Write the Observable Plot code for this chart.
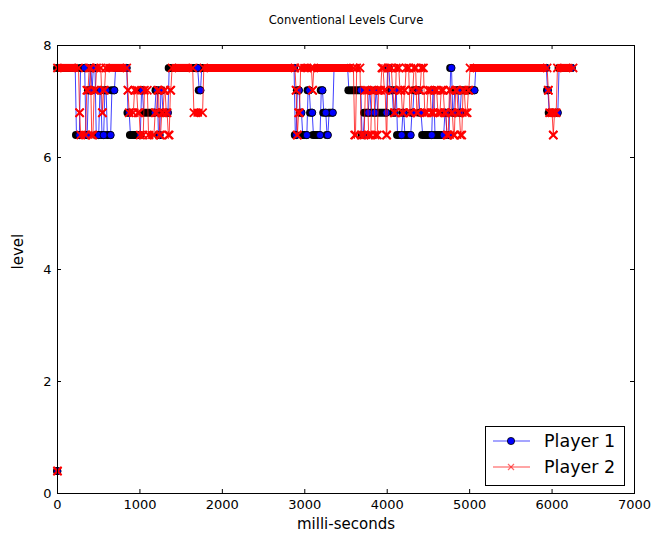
<!DOCTYPE html>
<html><head><meta charset="utf-8">
<script src="https://cdn.jsdelivr.net/npm/d3@7"></script>
<script src="https://cdn.jsdelivr.net/npm/@observablehq/plot@0.6"></script>
<style>
body{margin:0;background:#fff;font-family:"DejaVu Sans",sans-serif;}
#wrap{position:relative;width:652px;height:534px;}
#legend{position:absolute;left:485px;top:426px;width:140px;height:60px;border:1.5px solid #000;background:#fff;box-sizing:border-box;}
</style></head><body><div id="wrap"><div id="chart"></div><div id="legend"></div></div>
<script>
const title = "Conventional Levels Curve";
const xLabel = "milli-seconds";
const yLabel = "level";
const seriesNames = ["Player 1", "Player 2"];
const xTicks = [0,1000,2000,3000,4000,5000,6000,7000];
const yTicks = [0,2,4,6,8];

// runs: [start ms, end ms, level]
const player1Runs = [
[0,0,0.4],[0,215,7.6],[230,265,6.4],[280,330,7.6],[345,360,6.4],[375,385,7.2],[400,405,7.6],
[420,420,7.2],[435,455,7.6],[470,500,6.4],[515,525,7.2],[540,560,6.4],[575,590,7.2],[605,645,6.4],
[660,690,7.2],[705,840,7.6],[855,870,6.8],[885,1005,6.4],[1020,1030,7.2],[1045,1180,6.8],
[1195,1210,7.2],[1225,1240,6.4],[1255,1265,7.2],[1280,1340,6.8],[1355,1700,7.6],[1720,1735,7.2],
[1750,2870,7.6],[2885,2895,6.4],[2910,2930,7.2],[2945,2960,6.8],[2975,3025,6.4],[3040,3055,7.2],
[3070,3090,6.8],[3105,3185,6.4],[3200,3215,7.2],[3230,3255,6.8],[3270,3280,6.4],[3295,3340,6.8],
[3355,3520,7.6],[3535,3680,7.2],[3695,3710,6.4],[3725,3770,6.8],[3785,3790,7.2],[3805,3850,6.8],
[3865,3870,7.2],[3885,3990,6.8],[4005,4020,7.6],[4035,4060,7.2],[4075,4090,6.8],[4105,4110,7.2],
[4125,4175,6.4],[4190,4200,6.8],[4215,4285,6.4],[4300,4310,6.8],[4325,4380,7.2],[4395,4410,6.8],
[4430,4540,6.4],[4555,4565,7.2],[4580,4685,6.4],[4700,4710,6.8],[4725,4750,6.4],[4770,4780,7.6],
[4795,4805,6.8],[4820,4860,7.2],[4875,4885,6.8],[4900,5060,7.2],[5075,5930,7.6],[5945,5950,7.2],
[5965,6070,6.8],[6085,6240,7.6]
];
const player2Runs = [
[0,0,0.4],[0,255,7.6],[268,268,6.8],[282,340,6.4],[355,370,7.2],[385,400,7.6],[415,430,6.4],
[445,460,7.2],[475,525,7.6],[545,545,6.8],[560,570,7.2],[585,840,7.6],[855,855,7.2],[870,920,6.8],
[935,960,7.2],[975,990,6.8],[1005,1040,6.4],[1055,1090,7.2],[1105,1170,6.4],[1185,1200,6.8],
[1215,1225,7.2],[1240,1250,6.4],[1265,1280,6.8],[1295,1305,7.2],[1320,1330,6.8],[1345,1355,6.4],
[1370,1375,7.2],[1390,1640,7.6],[1655,1760,6.8],[1775,2880,7.6],[2895,2895,7.2],[2910,2910,6.4],
[2925,2935,6.8],[2950,3080,7.6],[3095,3095,7.2],[3110,3590,7.6],[3605,3615,6.4],[3630,3670,7.6],
[3685,3720,6.4],[3735,3760,7.2],[3775,3800,6.4],[3815,3840,7.2],[3855,3880,6.4],[3895,3920,7.2],
[3935,3950,7.6],[3965,3975,7.2],[3990,3995,6.4],[4010,4050,7.6],[4065,4070,7.2],[4085,4095,6.8],
[4110,4140,7.6],[4155,4170,7.2],[4185,4195,6.8],[4210,4215,7.2],[4230,4260,7.6],[4275,4285,6.8],
[4300,4310,7.2],[4325,4345,7.6],[4360,4370,6.8],[4385,4400,7.2],[4415,4440,7.6],[4455,4480,6.8],
[4495,4520,7.2],[4535,4560,6.8],[4575,4600,7.2],[4615,4640,6.8],[4655,4680,7.2],[4695,4710,6.8],
[4725,4740,6.4],[4755,4765,7.2],[4780,4790,6.8],[4805,4815,6.4],[4830,4845,7.2],[4860,4875,6.8],
[4890,4905,6.4],[4920,4935,7.2],[4950,4970,6.8],[4985,4990,7.2],[5005,5940,7.6],[5955,5955,7.2],
[5970,6000,6.8],[6015,6015,6.4],[6030,6050,6.8],[6065,6255,7.6]
];

const toRuns = rs => rs.map(([start,end,level]) => ({start,end,level}));
const toPts = rs => rs.flatMap(([start,end,level]) => [{t:start,level},{t:end,level}]);
const r1 = toRuns(player1Runs), r2 = toRuns(player2Runs);
const p1 = toPts(player1Runs), p2 = toPts(player2Runs);

const ML=57, MR=18, MT=45, MB=41, W=652, H=534;
const tickY = 8*4/(H-MT-MB), tickX = 7000*4/(W-ML-MR);
const blue = "#0000ff", red = "#ff0000";

const chart = Plot.plot({
  width: W, height: H,
  marginLeft: ML, marginRight: MR, marginTop: MT, marginBottom: MB,
  style: {fontFamily: "DejaVu Sans", fontSize: "13px", color: "black", background: "white", overflow: "visible"},
  x: {domain: [0,7000], label: null},
  y: {domain: [0,8], label: null},
  marks: [
    Plot.axisX({ticks: xTicks, tickSize: 0, tickPadding: 6, fontSize: 13, tickFormat: d => String(d)}),
    Plot.axisY({ticks: yTicks, tickSize: 0, tickPadding: 6, fontSize: 13, tickFormat: d => String(d)}),
    Plot.ruleX(xTicks, {x: d => d, y1: 0, y2: tickY, stroke: "black"}),
    Plot.ruleX(xTicks, {x: d => d, y1: 8, y2: 8 - tickY, stroke: "black"}),
    Plot.ruleY(yTicks, {y: d => d, x1: 0, x2: tickX, stroke: "black"}),
    Plot.ruleY(yTicks, {y: d => d, x1: 7000, x2: 7000 - tickX, stroke: "black"}),
    // Player 1
    Plot.line(p1, {x: "t", y: "level", stroke: blue, strokeWidth: 1, strokeOpacity: 0.75}),
    Plot.ruleY(r1, {y: "level", x1: "start", x2: "end", stroke: "black", strokeWidth: 8, strokeLinecap: "round"}),
    Plot.dot(r1, {x: "end", y: "level", r: 3.6, fill: blue, stroke: "black", strokeWidth: 0.8}),
    // Player 2
    Plot.line(p2, {x: "t", y: "level", stroke: red, strokeWidth: 1, strokeOpacity: 0.75}),
    Plot.ruleY(r2, {y: "level", x1: "start", x2: "end", stroke: red, strokeWidth: 8}),
    Plot.dot(r2, {x: "start", y: "level", symbol: "times", r: 3.8, stroke: red, strokeWidth: 1.8}),
    Plot.dot(r2, {x: "end", y: "level", symbol: "times", r: 3.8, stroke: red, strokeWidth: 1.8}),
    Plot.frame({stroke: "black", strokeWidth: 1}),
    Plot.text([title], {frameAnchor: "top", lineAnchor: "middle", dy: -25, text: d => d, fontSize: 11.6, fill: "black"}),
    Plot.text([xLabel], {frameAnchor: "bottom", lineAnchor: "middle", dy: 31, text: d => d, fontSize: 15, fill: "black"}),
    Plot.text([yLabel], {frameAnchor: "left", lineAnchor: "middle", dx: -39, rotate: -90, text: d => d, fontSize: 15, fill: "black"})
  ]
});
document.getElementById("chart").appendChild(chart);

// legend
const lg = d3.select("#legend").append("svg").attr("width", 137).attr("height", 57);
const entries = [
  {name: seriesNames[0], color: blue, sym: "o"},
  {name: seriesNames[1], color: red, sym: "x"}
];
entries.forEach((e, i) => {
  const y = 14 + i * 26;
  lg.append("line").attr("x1", 7).attr("x2", 44).attr("y1", y).attr("y2", y)
    .attr("stroke", e.color).attr("stroke-width", 1.2).attr("stroke-opacity", 0.7);
  if (e.sym === "o") {
    lg.append("circle").attr("cx", 25).attr("cy", y).attr("r", 3.6).attr("fill", e.color).attr("stroke", "black").attr("stroke-width", 0.8);
  } else {
    lg.append("path").attr("d", `M22,${y-3}L28,${y+3}M22,${y+3}L28,${y-3}`).attr("stroke", e.color).attr("stroke-width", 1.2).attr("stroke-opacity", 0.6);
  }
  lg.append("text").attr("x", 58).attr("y", y).attr("dy", "0.35em")
    .attr("font-family", "DejaVu Sans").attr("font-size", 17.5).attr("fill", "black").text(e.name);
});
</script>
</body></html>
